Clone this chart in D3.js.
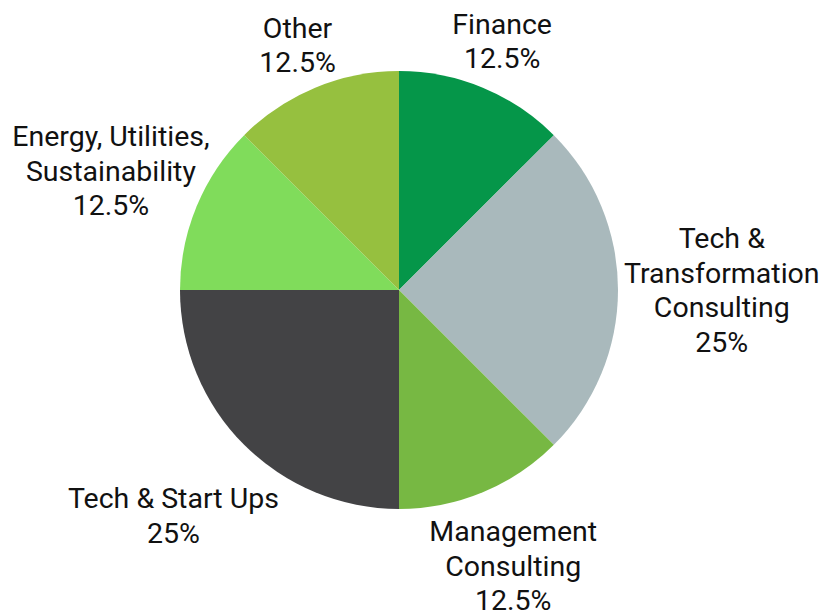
<!DOCTYPE html>
<html>
<head>
<meta charset="utf-8">
<script src="https://cdn.jsdelivr.net/npm/d3@7"></script>
<style>
  html, body { margin: 0; padding: 0; background: #ffffff; }
  svg { display: block; }
  text { font-family: Roboto, "Noto Sans", sans-serif; }
</style>
</head>
<body>
<svg id="chart" width="827" height="612"></svg>
<script>
// ---- Data ----
const categories = [
  ["Finance"],
  ["Tech &", "Transformation", "Consulting"],
  ["Management", "Consulting"],
  ["Tech & Start Ups"],
  ["Energy, Utilities,", "Sustainability"],
  ["Other"]
];
const values = [12.5, 25, 12.5, 25, 12.5, 12.5];
const percentLabels = ["12.5%", "25%", "12.5%", "25%", "12.5%", "12.5%"];
const colors = ["#059649", "#a9b9bc", "#77b843", "#434345", "#80dc5b", "#96c03f"];

// ---- Layout ----
const width = 827, height = 612;
const cx = 399, cy = 290, radius = 219;
const fontSize = 28.5, lineHeight = 34.5, labelOffset = 6;
const marginX = 12, marginY = 0;

const svg = d3.select("#chart");
const g = svg.append("g").attr("transform", `translate(${cx},${cy})`);

const pie = d3.pie().sort(null).value(d => d);
const arcs = pie(values);
const arc = d3.arc().innerRadius(0).outerRadius(radius);

g.selectAll("path.slice")
  .data(arcs)
  .join("path")
  .attr("class", "slice")
  .attr("d", arc)
  .attr("fill", (d, i) => colors[i]);

// ---- Labels (placed outside along mid-angle, box touching the rim, kept inside the canvas) ----
const labels = g.selectAll("g.label")
  .data(arcs)
  .join("g")
  .attr("class", "label");

labels.each(function(d, i) {
  const lines = categories[i].concat([percentLabels[i]]);
  const sel = d3.select(this);
  const t = sel.append("text")
    .attr("text-anchor", "middle")
    .attr("font-size", fontSize)
    .attr("fill", "#111111");
  const n = lines.length;
  lines.forEach((ln, k) => {
    t.append("tspan")
      .attr("x", 0)
      .attr("y", (k - (n - 1) / 2) * lineHeight)
      .attr("dy", "0.35em")
      .text(ln);
  });
  const bb = t.node().getBBox();
  const w = bb.width;
  const h = (n - 1) * lineHeight + 0.72 * fontSize;
  const mid = (d.startAngle + d.endAngle) / 2;
  const vx = Math.sin(mid), vy = -Math.cos(mid);
  let dist = radius + labelOffset + Math.abs(vx) * w / 2 + Math.abs(vy) * h / 2;
  // pull the label inward along its ray if it would leave the canvas
  const fits = dd => {
    const x = cx + vx * dd, y = cy + vy * dd;
    return x - w / 2 >= marginX && x + w / 2 <= width - marginX / 3 &&
           y - h / 2 >= marginY && y + h / 2 <= height - marginY;
  };
  while (!fits(dist) && dist > radius) dist -= 0.5;
  sel.attr("transform", `translate(${vx * dist},${vy * dist})`);
});
</script>
</body>
</html>
